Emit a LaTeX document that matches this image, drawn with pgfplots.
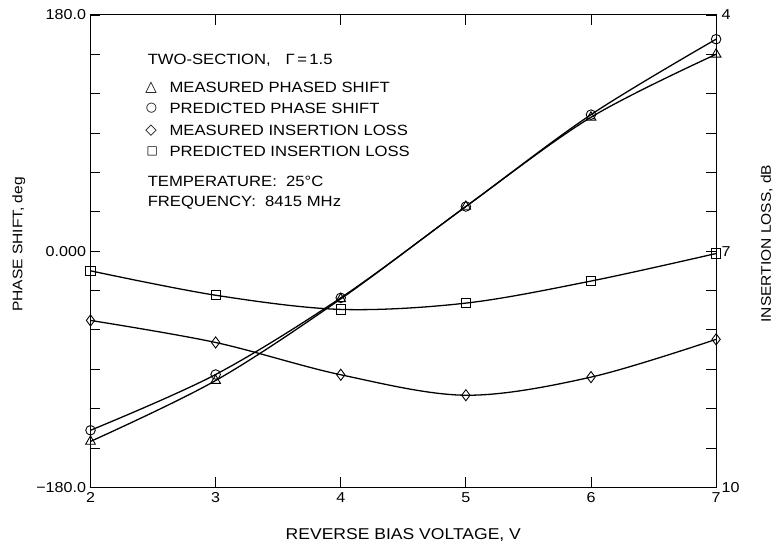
\documentclass[border=0pt]{standalone}
\usepackage{pgfplots}
\pgfplotsset{compat=1.18}
\usepackage{pgfplotstable}
\usepackage{fontspec}
\setmainfont[FakeStretch=1.12]{Liberation Sans}
\newfontfamily\symfont{DejaVu Sans}

% phase shift, deg (left axis)
\pgfplotstableread{
v   meas    pred
2   -145    -136.5
3   -98.6   -94
4   -36.4   -35.6
5   34      34
6   102     104
7   150     161.5
}\phasedata

% insertion loss, dB (right axis, reversed)
\pgfplotstableread{
v   meas    pred
2   7.88    7.25
3   8.16    7.56
4   8.57    7.74
5   8.83    7.66
6   8.60    7.38
7   8.12    7.03
}\lossdata

\pgfplotsset{
  common/.style={
    scale only axis, width=629bp, height=475bp,
    xmin=2, xmax=7, clip=false,
    axis line style={line width=0.9bp},
    major tick length=10bp, minor tick length=10bp,
    every tick/.style={black, line width=0.8bp},
    tick align=inside,
    font=\fontsize{15}{18}\selectfont,
    tick label style={font=\fontsize{14.5}{17}\selectfont},
    /pgf/number format/assume math mode=true,
  },
  curve/.style={black, line width=1.3bp, smooth, tension=0.55,
    mark options={solid, fill=white, line width=0.9bp}},
}

\begin{document}
\begin{tikzpicture}[font=\fontsize{15}{18}\selectfont]
\begin{axis}[common,
    ymin=-180, ymax=180,
    xtick={2,3,4,5,6,7}, xtick pos=both, xticklabel pos=lower,
    xticklabel style={yshift=-2bp},
    ytick={-180,0,180}, yticklabels={−180.0,0.000,180.0},
    minor ytick={-150,-120,-90,-60,-30,30,60,90,120,150},
    ytick pos=left,
    yticklabel style={xshift=-1bp},
    xlabel={REVERSE BIAS VOLTAGE, V},
    ylabel={PHASE SHIFT, deg},
    every axis x label/.style={at={(axis description cs:0.5,-0.101)}, anchor=center,
      font=\fontsize{15.8}{19}\selectfont},
    every axis y label/.style={at={(axis description cs:-0.1145,0.514)}, rotate=90, anchor=center,
      font=\fontsize{14}{17}\selectfont},
  ]
  \addplot[curve, mark=triangle, mark size=5.6bp] table[x=v, y=meas] {\phasedata};
  \addplot[curve, mark=o, mark size=4.8bp] table[x=v, y=pred] {\phasedata};

  \node[anchor=west] at (axis description cs:0.0859,0.905) {TWO-SECTION,\quad Γ\,=\,1.5};
  \node[anchor=west, font=\symfont\fontsize{15}{16}\selectfont] at (axis description cs:0.0820,0.846) {△};
  \node[anchor=west, font=\symfont\fontsize{13}{16}\selectfont] at (axis description cs:0.0830,0.802) {○};
  \node[anchor=west, font=\symfont\fontsize{15}{16}\selectfont] at (axis description cs:0.0820,0.756) {◇};
  \node[anchor=west, font=\symfont\fontsize{12}{16}\selectfont] at (axis description cs:0.0840,0.712) {□};
  \node[anchor=west] at (axis description cs:0.1208,0.846) {MEASURED PHASED SHIFT};
  \node[anchor=west] at (axis description cs:0.1208,0.802) {PREDICTED PHASE SHIFT};
  \node[anchor=west] at (axis description cs:0.1208,0.756) {MEASURED INSERTION LOSS};
  \node[anchor=west] at (axis description cs:0.1208,0.712) {PREDICTED INSERTION LOSS};
  \node[anchor=west] at (axis description cs:0.0859,0.648) {TEMPERATURE:\ \ 25°C};
  \node[anchor=west] at (axis description cs:0.0859,0.602) {FREQUENCY:\ \ 8415 MHz};
\end{axis}

\begin{axis}[common,
    axis x line=none, axis y line*=right,
    y dir=reverse, ymin=4, ymax=10,
    ytick={4,7,10}, ytick pos=right,
    minor ytick={4.5,5,5.5,6,6.5,7.5,8,8.5,9,9.5},
    yticklabel style={xshift=2bp},
    ylabel={INSERTION LOSS, dB},
    every axis y label/.style={at={(axis description cs:1.081,0.516)}, rotate=90, anchor=center,
      font=\fontsize{14}{17}\selectfont},
  ]
  \addplot[curve, mark=diamond, mark size=5.6bp] table[x=v, y=meas] {\lossdata};
  \addplot[curve, mark=square, mark size=4.6bp] table[x=v, y=pred] {\lossdata};
\end{axis}
\path ([shift={(-91bp,-60bp)}]current axis.south west) rectangle ([shift={(56bp,15bp)}]current axis.north east);
\end{tikzpicture}
\end{document}
